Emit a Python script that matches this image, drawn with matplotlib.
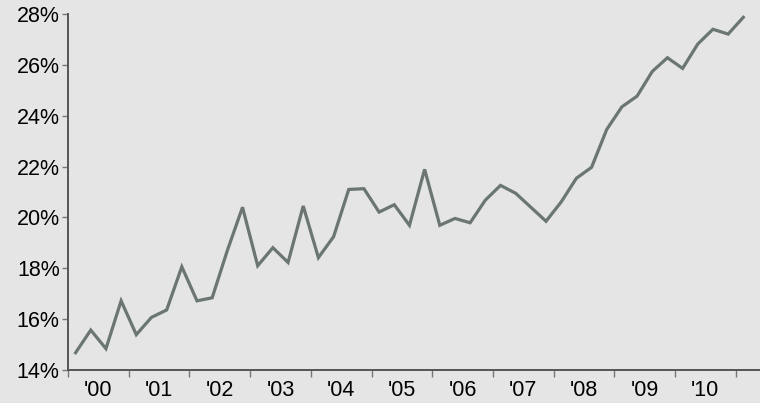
import numpy as np
import matplotlib.pyplot as plt
from matplotlib.ticker import FixedLocator, FuncFormatter

plt.rcParams['font.family'] = ['Liberation Sans', 'DejaVu Sans']

# quarterly values, 2000 Q1 .. 2011 Q1 (percent)
values = [14.68, 15.57, 14.84, 16.72,
          15.39, 16.07, 16.36, 18.06,
          16.72, 16.84, 18.70, 20.40,
          18.10, 18.81, 18.23, 20.45,
          18.42, 19.24, 21.10, 21.13,
          20.21, 20.50, 19.69, 21.89,
          19.69, 19.96, 19.79, 20.68,
          21.26, 20.95, 20.40, 19.85,
          20.61, 21.54, 21.97, 23.46,
          24.35, 24.77, 25.74, 26.28,
          25.86, 26.82, 27.40, 27.21,
          27.87]
years = list(range(2000, 2011))
year_labels = ["'%02d" % (y % 100) for y in years]

x = 2000 + np.arange(len(values)) * 0.25 + 0.125

bg = '#e4e5e4'
fig = plt.figure(figsize=(7.6, 4.03), dpi=100, facecolor=bg)
ax = fig.add_axes([68 / 760, 33 / 403, 692 / 760, 356 / 403])
ax.set_facecolor(bg)

ax.plot(x, values, color='#6b7571', linewidth=2.3, solid_joinstyle='miter')

ax.set_xlim(2000, 2011.4)
ax.set_ylim(14, 28)

ax.set_yticks(np.arange(14, 29, 2))
ax.yaxis.set_major_formatter(FuncFormatter(lambda v, p: '%d%%' % v))

ax.xaxis.set_major_locator(FixedLocator(list(range(2000, 2012))))
ax.xaxis.set_major_formatter(FuncFormatter(lambda v, p: ''))
ax.xaxis.set_minor_locator(FixedLocator([y + 0.5 for y in years]))
ax.set_xticklabels(year_labels, minor=True)

for s in ['top', 'right']:
    ax.spines[s].set_visible(False)
for s in ['left', 'bottom']:
    ax.spines[s].set_color('#555555')
    ax.spines[s].set_linewidth(1.4)

ax.tick_params(axis='y', length=4, width=1, color='#777777', labelsize=15.5, pad=2)
ax.tick_params(axis='x', which='major', length=5, width=1, color='#777777')
ax.tick_params(axis='x', which='minor', length=0, labelsize=15.5, pad=7)

fig.savefig('out.png', dpi=100, facecolor=bg)
